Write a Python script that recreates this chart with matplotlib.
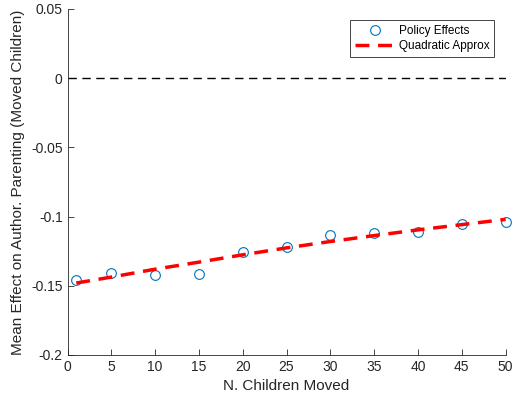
import numpy as np
import matplotlib
matplotlib.use("Agg")
import matplotlib.pyplot as plt

plt.rcParams['font.family'] = ['Liberation Sans', 'DejaVu Sans']

# data
n_moved = [1, 5, 10, 15, 20, 25, 30, 35, 40, 45, 50]
policy_effects = [-0.1457, -0.1404, -0.1423, -0.1416, -0.1257, -0.1219,
                  -0.1130, -0.1115, -0.1110, -0.1050, -0.1040]
quad_approx = [-0.1480, -0.1437, -0.1380, -0.1329, -0.1276, -0.1226,
               -0.1180, -0.1137, -0.1096, -0.1058, -0.1020]

fig = plt.figure(figsize=(5.13, 4.00), dpi=100)
ax = fig.add_axes([0.1316, 0.1125, 0.854, 0.865])

ax.plot(n_moved, policy_effects, 'o', mfc='none', mec=(0, 0.447, 0.741),
        ms=7, mew=0.8, label='Policy Effects', clip_on=False)
ax.plot(n_moved, quad_approx, '--', color='red', lw=2.5, dashes=(4, 2.5),
        label='Quadratic Approx')
ax.axhline(0, color='black', ls='--', lw=1, dashes=(6, 4))

ax.set_xlim(0, 50)
ax.set_ylim(-0.2, 0.05)
ax.set_xticks(np.arange(0, 51, 5))
ax.set_yticks([-0.2, -0.15, -0.1, -0.05, 0, 0.05])
ax.set_yticklabels(['-0.2', '-0.15', '-0.1', '-0.05', '0', '0.05'])
ax.tick_params(direction='in', labelsize=10, length=4,
               width=0.6, colors='#262626')
ax.spines['top'].set_visible(False)
ax.spines['right'].set_visible(False)
for s in ax.spines.values():
    s.set_linewidth(0.6)
    s.set_color('#262626')

ax.set_xlabel('N. Children Moved', fontsize=11, color='#262626')
ax.set_ylabel('Mean Effect on Author. Parenting (Moved Children)', fontsize=11,
              color='#262626')

leg = ax.legend(loc='upper right', bbox_to_anchor=(0.9735, 0.968), fontsize=8.5,
                fancybox=False, edgecolor='#262626', framealpha=1,
                handlelength=3.4, borderpad=0.4, labelspacing=0.3,
                handletextpad=0.3, borderaxespad=0)
leg.get_frame().set_linewidth(0.6)

fig.savefig('out.png', dpi=100)
